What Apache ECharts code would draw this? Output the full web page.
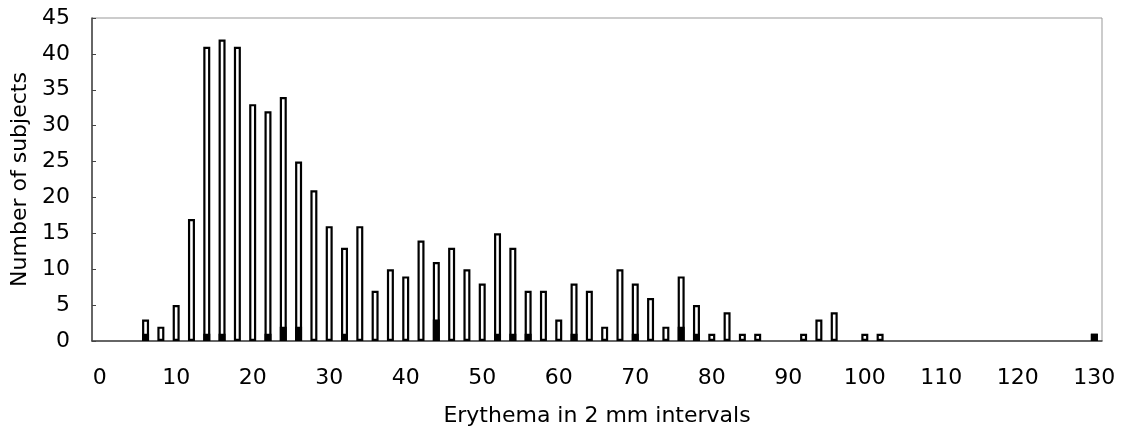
<!DOCTYPE html>
<html>
<head>
<meta charset="utf-8">
<script src="https://cdn.jsdelivr.net/npm/echarts@6/dist/echarts.min.js"></script>
<style>
  html, body { margin: 0; padding: 0; background: #fff; }
  #renderChart { width: 1122px; height: 440px; }
</style>
</head>
<body>
<div id="renderChart"></div>
<script>
// erythema size classes, 2 mm steps
const categories = [
  '0', '2', '4', '6', '8', '10', '12', '14', '16', '18',
  '20', '22', '24', '26', '28', '30', '32', '34', '36', '38',
  '40', '42', '44', '46', '48', '50', '52', '54', '56', '58',
  '60', '62', '64', '66', '68', '70', '72', '74', '76', '78',
  '80', '82', '84', '86', '88', '90', '92', '94', '96', '98',
  '100', '102', '104', '106', '108', '110', '112', '114', '116', '118',
  '120', '122', '124', '126', '128', '130'
];

// all subjects (white bars)
const allSubjects = [
  0, 0, 0, 3, 2, 5, 17, 41, 42, 41,
  33, 32, 34, 25, 21, 16, 13, 16, 7, 10,
  9, 14, 11, 13, 10, 8, 15, 13, 7, 7,
  3, 8, 7, 2, 10, 8, 6, 2, 9, 5,
  1, 4, 1, 1, 0, 0, 1, 3, 4, 0,
  1, 1, 0, 0, 0, 0, 0, 0, 0, 0,
  0, 0, 0, 0, 0, 1
];

// subset drawn in black
const blackSubjects = [
  0, 0, 0, 1, 0, 0, 0, 1, 1, 0,
  0, 1, 2, 2, 0, 0, 1, 0, 0, 0,
  0, 0, 3, 0, 0, 0, 1, 1, 1, 0,
  0, 1, 0, 0, 0, 1, 0, 0, 2, 1,
  0, 0, 0, 0, 0, 0, 0, 0, 0, 0,
  0, 0, 0, 0, 0, 0, 0, 0, 0, 0,
  0, 0, 0, 0, 0, 1
];

const yTicks = { min: 0, max: 45, interval: 5 };

const font = 'DejaVu Sans';

const myChart = echarts.init(document.getElementById('renderChart'));

const option = {
  animation: false,
  backgroundColor: '#fff',
  grid: {
    left: 92, right: 20, top: 18, bottom: 99,
    show: true,
    borderColor: '#999',
    borderWidth: 1
  },
  xAxis: {
    type: 'category',
    data: categories,
    name: 'Erythema in 2 mm intervals',
    nameLocation: 'middle',
    nameGap: 64,
    nameTextStyle: { fontFamily: font, fontSize: 22, color: '#000' },
    axisLine: { lineStyle: { color: '#444', width: 1.5 } },
    axisTick: { show: false },
    axisLabel: {
      interval: 4,
      margin: 26,
      fontFamily: font, fontSize: 22, color: '#000'
    },
    splitLine: { show: false }
  },
  yAxis: {
    type: 'value',
    min: yTicks.min,
    max: yTicks.max,
    interval: yTicks.interval,
    name: 'Number of subjects',
    nameLocation: 'middle',
    nameGap: 57,
    nameRotate: 90,
    nameTextStyle: { fontFamily: font, fontSize: 22, color: '#000' },
    axisLine: { show: true, lineStyle: { color: '#444', width: 1.5 } },
    axisTick: { show: true, inside: true, length: 4, lineStyle: { color: '#444' } },
    axisLabel: { margin: 22, fontFamily: font, fontSize: 22, color: '#000' },
    splitLine: { show: false }
  },
  series: [
    {
      type: 'bar',
      data: allSubjects.map(v => v || null),
      barWidth: 7,
      itemStyle: { color: '#fff', borderColor: '#000', borderWidth: 2.2 }
    },
    {
      type: 'bar',
      data: blackSubjects.map(v => v || null),
      barWidth: 7,
      barGap: '-100%',
      itemStyle: { color: '#000', borderColor: '#000', borderWidth: 2.2 }
    }
  ]
};

myChart.setOption(option);
</script>
</body>
</html>
